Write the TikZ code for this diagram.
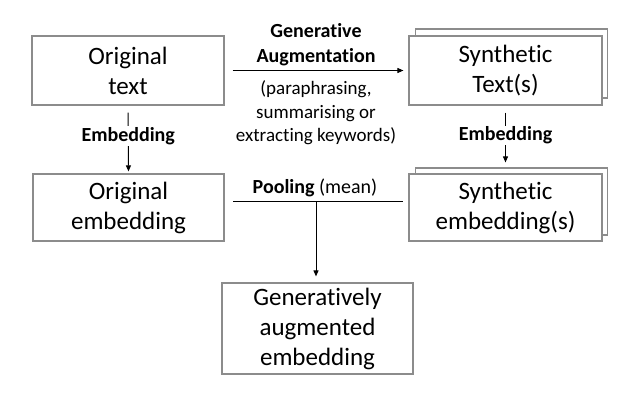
\documentclass[tikz,border=0pt]{standalone}
\usepackage{fontspec}
\setmainfont{Carlito}[RawFeature={-liga}]
\usetikzlibrary{arrows.meta}
\definecolor{boxgray}{gray}{0.55}
\tikzset{
  box/.style={draw=boxgray, line width=1.2pt, fill=white, rectangle, align=center,
    inner sep=0pt, font=\fontsize{25}{30}\selectfont},
  conn/.style={line width=1pt, black},
  arr/.style={conn, -{Triangle[length=6pt,width=5pt]}},
  lbl/.style={font=\fontsize{20}{25}\selectfont\bfseries, inner sep=1pt, align=center},
  sub/.style={font=\fontsize{19}{23.5}\selectfont, inner sep=0pt, align=center},
}
\begin{document}
\begin{tikzpicture}[x=1pt,y=-1pt]
\useasboundingbox (0,0) rectangle (635,400);
% boxes
\node[box, minimum width=192pt, minimum height=69pt] (ot) at (128,70.5) {Original\\text};
\node[box, minimum width=192pt, minimum height=69pt] (stb) at (511.5,63.5) {};
\node[box, minimum width=193pt, minimum height=69pt] (st) at (505.5,70.5) {Synthetic\\Text(s)};
\node[box, minimum width=191pt, minimum height=67pt] (oe) at (128.5,207.5) {Original\\embedding};
\node[box, minimum width=192pt, minimum height=67pt] (seb) at (511.5,201.5) {};
\node[box, minimum width=193pt, minimum height=67pt] (se) at (505.5,207.5) {Synthetic\\embedding(s)};
\node[box, minimum width=191pt, minimum height=91pt] (ge) at (317.5,328.5) {Generatively\\augmented\\embedding};
% generative augmentation
\draw[arr, shorten <=8pt, shorten >=5pt] (ot.east) -- (st.west);
\node[lbl] (ga) at (316,45) {Generative\\Augmentation};
\node[sub] (gs) at (316,113) {(paraphrasing,\\summarising or\\extracting keywords)};
% embedding arrows
\draw[arr, shorten <=7pt, shorten >=2pt] (ot.south) -- node[lbl, fill=white, pos=0.45] (e1) {Embedding} (oe.north);
\draw[arr, shorten <=7pt, shorten >=5pt] (st.south) -- node[lbl, fill=white, pos=0.48] (e2) {Embedding} (st.south |- seb.north);
% pooling
\coordinate (pl) at (233,201);
\coordinate (pr) at (403,201);
\coordinate (pm) at (316,201);
\draw[conn] (pl) -- (pr);
\node[anchor=base, inner sep=0pt, font=\fontsize{20}{24}\selectfont] (pool) at (315,193) {\textbf{Pooling} (mean)};
\draw[arr, shorten >=6pt] (pm) -- (pm |- ge.north);
\end{tikzpicture}
\end{document}
